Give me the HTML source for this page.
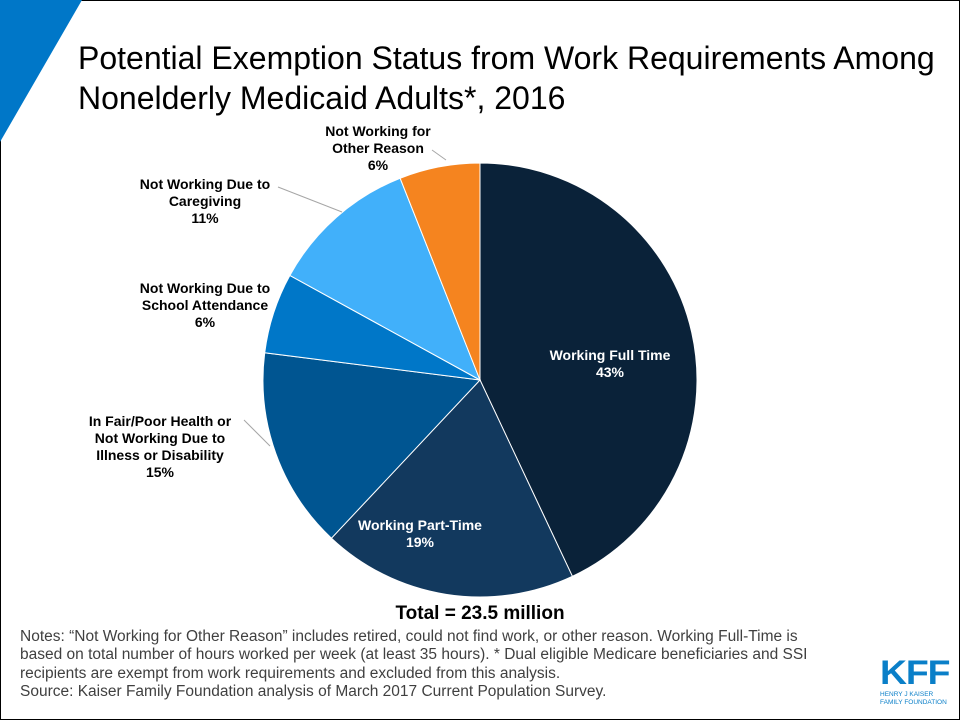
<!DOCTYPE html>
<html><head><meta charset="utf-8"><style>
body{margin:0;width:960px;height:720px;background:#fff;font-family:"Liberation Sans",Arial,sans-serif;position:relative;overflow:hidden}
.t{position:absolute}
.lbl{position:absolute;font-weight:bold;font-size:14px;text-align:center;line-height:17px;color:#000}
</style></head><body>
<div class="t" style="left:0;top:0;width:958px;height:718px;border:1px solid #000"></div>
<svg class="t" style="left:0;top:0" width="960" height="720">
<polygon points="0,0 82,0 0,142" fill="#0077c8"/>
<g id="pie"></g>
<g stroke="#a6a6a6" stroke-width="1" fill="none">
<line x1="432" y1="150" x2="446" y2="160"/>
<line x1="278" y1="187" x2="342" y2="212"/>
<line x1="244" y1="420" x2="270" y2="446"/>
</g>
</svg>
<div class="t" style="left:78px;top:38px;font-size:32px;line-height:40px;color:#000">Potential Exemption Status from Work Requirements Among<br>Nonelderly Medicaid Adults*, 2016</div>
<div class="lbl" style="left:530px;top:347px;width:160px;color:#fff">Working Full Time<br>43%</div>
<div class="lbl" style="left:350px;top:517px;width:140px;color:#fff">Working Part-Time<br>19%</div>
<div class="lbl" style="left:70px;top:413px;width:180px">In Fair/Poor Health or<br>Not Working Due to<br>Illness or Disability<br>15%</div>
<div class="lbl" style="left:110px;top:280px;width:190px">Not Working Due to<br>School Attendance<br>6%</div>
<div class="lbl" style="left:110px;top:176px;width:190px">Not Working Due to<br>Caregiving<br>11%</div>
<div class="lbl" style="left:298px;top:123px;width:160px">Not Working for<br>Other Reason<br>6%</div>
<div class="t" style="left:370px;top:603px;width:220px;text-align:center;font-weight:bold;font-size:19px">Total = 23.5 million</div>
<div class="t" style="left:20px;top:628px;width:860px;font-size:15.5px;line-height:18.3px;color:#404040;white-space:nowrap">Notes: “Not Working for Other Reason” includes retired, could not find work, or other reason. Working Full-Time is<br>based on total number of hours worked per week (at least 35 hours). * Dual eligible Medicare beneficiaries and SSI<br>recipients are exempt from work requirements and excluded from this analysis.<br>Source: Kaiser Family Foundation analysis of March 2017 Current Population Survey.</div>
<div class="t" style="left:880px;top:658px;width:70px">
<div style="font-weight:bold;font-size:34px;line-height:30px;color:#0a7fc8;letter-spacing:-1px;transform:scaleX(1.1);transform-origin:left">KFF</div>
<div style="font-size:6.5px;line-height:8px;color:#0a7fc8;margin-top:3px">HENRY J KAISER<br>FAMILY FOUNDATION</div>
</div>
<script>
const categories=["Working Full Time","Working Part-Time","Illness or Disability","School Attendance","Caregiving","Other Reason"];
const values=[43,19,15,6,11,6];
const colors=["#0a2239","#12395e","#005591","#0077c8","#41b0fa","#f5841f"];
const cx=480,cy=380,r=217;
const g=document.getElementById('pie');
const total=values.reduce((a,b)=>a+b,0);
let a0=-Math.PI/2;
values.forEach((v,i)=>{
 const a1=a0+v/total*2*Math.PI;
 const x0=cx+r*Math.cos(a0),y0=cy+r*Math.sin(a0),x1=cx+r*Math.cos(a1),y1=cy+r*Math.sin(a1);
 const p=document.createElementNS('http://www.w3.org/2000/svg','path');
 p.setAttribute('d',`M${cx},${cy}L${x0},${y0}A${r},${r} 0 ${a1-a0>Math.PI?1:0} 1 ${x1},${y1}Z`);
 p.setAttribute('fill',colors[i]);p.setAttribute('stroke','#fff');p.setAttribute('stroke-width','1');
 
 
 g.appendChild(p);a0=a1;
});
</script>
</body></html>
